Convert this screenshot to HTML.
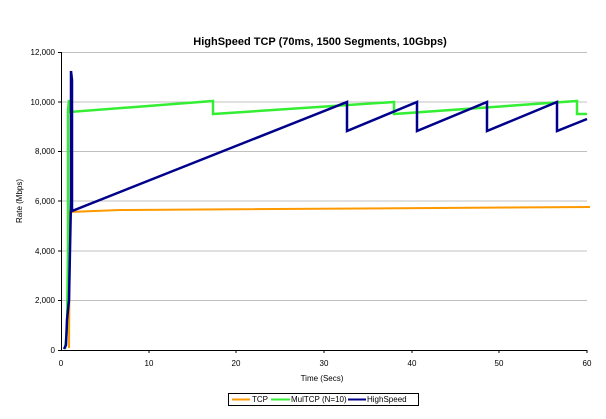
<!DOCTYPE html><html><head><style>body{margin:0;background:#fff}svg{font-family:"Liberation Sans",sans-serif}</style></head><body>
<svg width="606" height="414" viewBox="0 0 606 414">
<text x="320" y="45" font-size="11" font-weight="bold" text-anchor="middle">HighSpeed TCP (70ms, 1500 Segments, 10Gbps)</text>
<g stroke="#c0c0c0" stroke-width="1">
<line x1="61" x2="587" y1="52.5" y2="52.5"/><line x1="61" x2="587" y1="102" y2="102"/><line x1="61" x2="587" y1="151.5" y2="151.5"/><line x1="61" x2="587" y1="201" y2="201"/><line x1="61" x2="587" y1="251" y2="251"/><line x1="61" x2="587" y1="300.5" y2="300.5"/>
</g>
<g stroke="#000" stroke-width="1">
<line x1="61.5" y1="52" x2="61.5" y2="350"/><line x1="61" y1="350.5" x2="587" y2="350.5"/>
<line x1="58" x2="61" y1="52.5" y2="52.5"/><line x1="58" x2="61" y1="102" y2="102"/><line x1="58" x2="61" y1="151.5" y2="151.5"/><line x1="58" x2="61" y1="201" y2="201"/><line x1="58" x2="61" y1="251" y2="251"/><line x1="58" x2="61" y1="300.5" y2="300.5"/><line x1="58" x2="61" y1="350.5" y2="350.5"/>
<line x1="149" x2="149" y1="350" y2="353"/><line x1="236" x2="236" y1="350" y2="353"/><line x1="324" x2="324" y1="350" y2="353"/><line x1="412" x2="412" y1="350" y2="353"/><line x1="499" x2="499" y1="350" y2="353"/><line x1="587" x2="587" y1="350" y2="353"/>
</g>
<g font-size="8" text-anchor="end">
<text x="55" y="55">12,000</text><text x="55" y="105">10,000</text><text x="55" y="154">8,000</text><text x="55" y="204">6,000</text><text x="55" y="254">4,000</text><text x="55" y="303">2,000</text><text x="55" y="353">0</text>
</g>
<g font-size="8" text-anchor="middle">
<text x="61" y="366">0</text><text x="149" y="366">10</text><text x="236" y="366">20</text><text x="324" y="366">30</text><text x="412" y="366">40</text><text x="499" y="366">50</text><text x="587" y="366">60</text>
<text x="322" y="381">Time (Secs)</text>
</g>
<text font-size="8" text-anchor="middle" transform="translate(22,201) rotate(-90)">Rate (Mbps)</text>
<polyline fill="none" stroke="#ff9900" stroke-width="2" points="69,348 70,212 120,210 590,207"/>
<polyline fill="none" stroke="#33ee33" stroke-width="2.5" points="65,349 67,330 68,250 68,110 69,100 69,110 70,112 213,101 213,114 394,102 394,114 577,101 577,114 587,114"/>
<polyline fill="none" stroke="#00008b" stroke-width="2.5" points="64,349 66,345 67,320 69,300 70,250 71,200 71,71 72,80 72,211 347,102 347,131 417,102 417,131 487,102 487,131 557,102 557,131 587,119"/>
<rect x="228.5" y="393.5" width="190" height="12" fill="#fff" stroke="#000"/>
<g font-size="8">
<line x1="232" x2="250" y1="399.5" y2="399.5" stroke="#ff9900" stroke-width="2"/><text x="252" y="402">TCP</text>
<line x1="271" x2="290" y1="399.5" y2="399.5" stroke="#33ee33" stroke-width="2"/><text x="291" y="402">MulTCP (N=10)</text>
<line x1="348" x2="366" y1="399.5" y2="399.5" stroke="#00008b" stroke-width="2"/><text x="367" y="402">HighSpeed</text>
</g>
</svg></body></html>
